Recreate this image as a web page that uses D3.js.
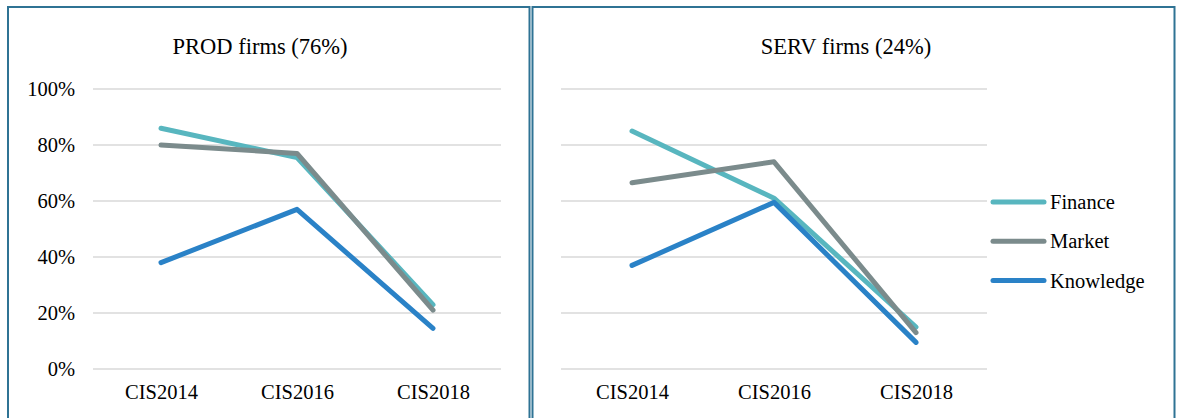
<!DOCTYPE html>
<html>
<head>
<meta charset="utf-8">
<script src="https://cdn.jsdelivr.net/npm/d3@7/dist/d3.min.js"></script>
<style>
  html, body { margin: 0; padding: 0; background: #fff; }
  svg { display: block; }
  svg text { font-family: "Liberation Serif", "Times New Roman", Times, serif !important; fill: #000; }
</style>
</head>
<body>
<svg id="chart" width="1181" height="418"></svg>
<script>
// Survey waves on the x axis
const categories = ["CIS2014", "CIS2016", "CIS2018"];
// Y axis ticks (share of firms)
const yTicks = [0, 0.2, 0.4, 0.6, 0.8, 1.0];
const seriesNames = ["Finance", "Market", "Knowledge"];

// Production firms
const prodFinance   = [0.86, 0.755, 0.23];
const prodMarket    = [0.80, 0.77, 0.21];
const prodKnowledge = [0.38, 0.57, 0.145];

// Service firms
const servFinance   = [0.85, 0.61, 0.15];
const servMarket    = [0.665, 0.74, 0.13];
const servKnowledge = [0.37, 0.595, 0.095];

const colors = { Finance: "#58b6bf", Market: "#7b8b8c", Knowledge: "#2a82c7" };
const FONT = "'Liberation Serif', 'Times New Roman', Times, serif";

const panels = [
  { title: "PROD firms (76%)", box: [8, 529.5], plot: [93, 501], titleX: 260,
    showY: true, legend: false,
    series: { Finance: prodFinance, Market: prodMarket, Knowledge: prodKnowledge } },
  { title: "SERV firms (24%)", box: [532.5, 1174.5], plot: [561, 987], titleX: 846,
    showY: false, legend: true,
    series: { Finance: servFinance, Market: servMarket, Knowledge: servKnowledge } }
];

const svg = d3.select("#chart");
const y = d3.scaleLinear().domain([0, 1]).range([369, 89]);

panels.forEach(p => {
  const g = svg.append("g");

  // panel frame
  g.append("rect")
    .attr("x", p.box[0]).attr("y", 7)
    .attr("width", p.box[1] - p.box[0]).attr("height", 430)
    .attr("fill", "none").attr("stroke", "#2f7394").attr("stroke-width", 2);

  // title
  g.append("text")
    .attr("x", p.titleX).attr("y", 54)
    .attr("text-anchor", "middle")
    .style("font-family", FONT)
    .style("font-size", "22.5px")
    .text(p.title);

  const x = d3.scalePoint().domain(categories).range(p.plot).padding(0.5);

  // horizontal gridlines
  g.append("g").selectAll("line").data(yTicks).join("line")
    .attr("x1", p.plot[0]).attr("x2", p.plot[1])
    .attr("y1", d => y(d)).attr("y2", d => y(d))
    .attr("stroke", "#d9d9d9").attr("stroke-width", 1.5);

  // y axis labels
  if (p.showY) {
    const ya = g.append("g").attr("transform", `translate(${p.plot[0]},0)`)
      .call(d3.axisLeft(y).tickValues(yTicks).tickFormat(d3.format(".0%"))
        .tickSize(0).tickPadding(18))
      .attr("font-family", FONT);
    ya.select(".domain").remove();
    ya.selectAll("text").style("font-family", FONT).style("font-size", "20.5px")
      .attr("fill", "#000").attr("dy", "0.34em");
  }

  // x axis labels
  const xa = g.append("g").attr("transform", `translate(0,${y(0)})`)
    .call(d3.axisBottom(x).tickSize(0).tickPadding(15))
    .attr("font-family", FONT);
  xa.select(".domain").remove();
  xa.selectAll("text").style("font-family", FONT).style("font-size", "20.5px")
    .attr("fill", "#000");

  // series lines
  const line = d3.line().x((d, i) => x(categories[i])).y(d => y(d));
  seriesNames.forEach(name => {
    g.append("path")
      .datum(p.series[name])
      .attr("d", line)
      .attr("fill", "none")
      .attr("stroke", colors[name])
      .attr("stroke-width", 5)
      .attr("stroke-linecap", "round")
      .attr("stroke-linejoin", "round");
  });

  // legend
  if (p.legend) {
    const lg = g.append("g");
    seriesNames.forEach((name, i) => {
      const ly = 202 + i * 39.3;
      lg.append("line")
        .attr("x1", 993).attr("x2", 1044)
        .attr("y1", ly).attr("y2", ly)
        .attr("stroke", colors[name]).attr("stroke-width", 5)
        .attr("stroke-linecap", "round");
      lg.append("text")
        .attr("x", 1050).attr("y", ly).attr("dy", "0.34em")
        .style("font-family", FONT)
        .style("font-size", "20.5px")
        .text(name);
    });
  }
});
</script>
</body>
</html>
